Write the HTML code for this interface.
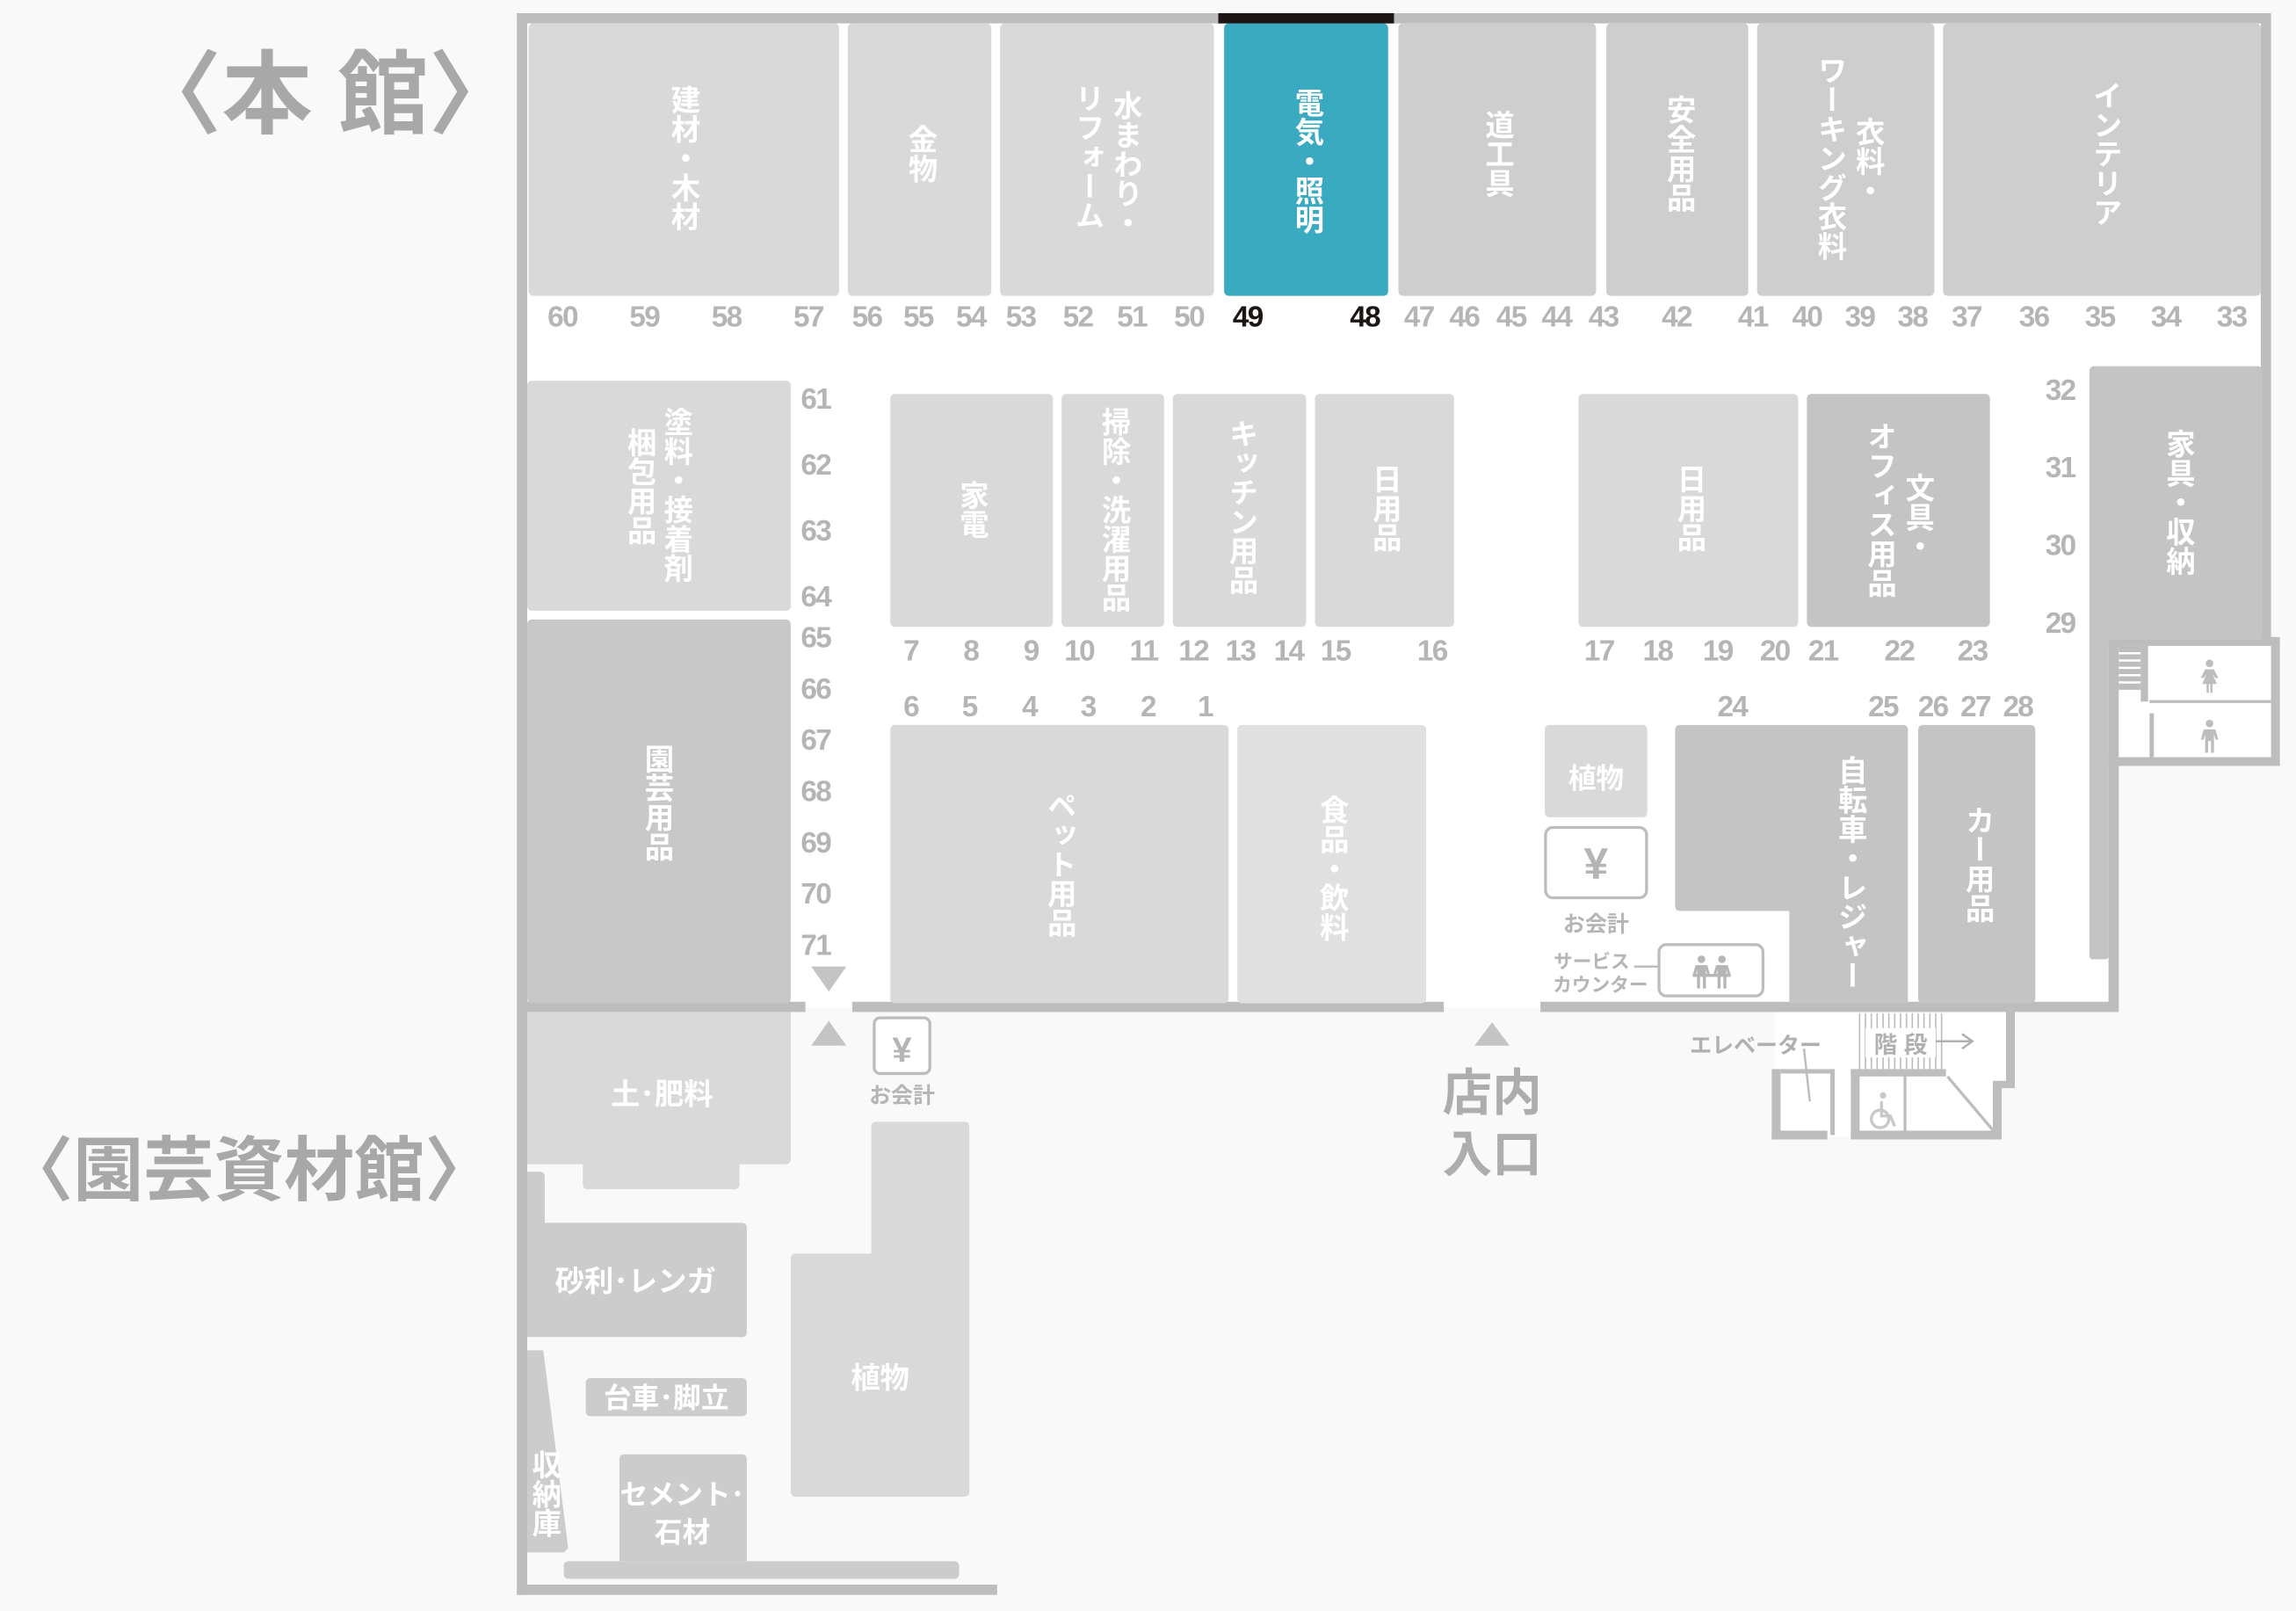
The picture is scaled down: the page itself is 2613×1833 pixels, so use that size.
<!DOCTYPE html>
<html><head><meta charset="utf-8"><style>
html,body{margin:0;padding:0;background:#f9f9f9;}
svg{display:block}
.v{writing-mode:vertical-rl;text-anchor:start;font-family:"Liberation Sans","Noto Sans CJK JP",sans-serif;font-weight:bold;fill:#fff;font-size:20px}
.n{font-family:"Liberation Sans",sans-serif;font-weight:bold;fill:#b5b5b5;font-size:20px;text-anchor:middle;letter-spacing:-1px}
.h{font-family:"Liberation Sans","Noto Sans CJK JP",sans-serif;font-weight:bold;text-anchor:middle}
</style></head><body>
<svg width="2613" height="1833" viewBox="0 0 1568 1100" xmlns="http://www.w3.org/2000/svg">
<defs>
<g id="man"><circle cx="0" cy="-9" r="2.6"/><path d="M-4,-5 H4 L6,2 H4 L3,-2 V11 H1 V3 H-1 V11 H-3 V-2 L-4,2 H-6Z"/></g>
<g id="woman"><circle cx="0" cy="-9" r="2.6"/><path d="M-3,-5 H3 L6,1 H4 L2,-2 L5,5 H2 V11 H0.5 V5 H-0.5 V11 H-2 V5 H-5 L-2,-2 L-4,1 H-6Z"/></g>
</defs>
<rect width="1568" height="1100" fill="#f9f9f9"/>
<!-- main interior -->
<polygon points="358,14 1548,14 1548,437 1446,437 1446,688 358,688" fill="#fff"/>
<rect x="1440" y="437" width="115" height="85" fill="#fff"/>
<polygon points="1212,690 1375,690 1375,738 1365,738 1365,776 1212,776" fill="#fff"/>

<!-- titles -->
<text x="222" y="86" class="h" font-size="62" fill="#a8a8a8">〈本 館〉</text>
<text x="170" y="816" class="h" font-size="48" fill="#a8a8a8">〈園芸資材館〉</text>

<!-- walls -->
<g fill="#bdbdbd">
<rect x="353" y="9" width="1197" height="7"/>
<rect x="353" y="9" width="7" height="1080"/>
<rect x="1544" y="9" width="7" height="430"/>
<rect x="1440" y="435" width="117" height="6"/>
<rect x="1551" y="435" width="6" height="88"/>
<rect x="1440" y="517" width="117" height="6"/>
<rect x="1440" y="435" width="7" height="256"/>
<rect x="353" y="684" width="197" height="7"/>
<rect x="582" y="684" width="404" height="7"/>
<rect x="1052" y="684" width="394" height="7"/>
<rect x="353" y="1082" width="328" height="7"/>
<rect x="1370" y="690" width="6" height="50"/>
<rect x="1365" y="738" width="11" height="5"/>
<rect x="1361" y="738" width="6" height="40"/>
<rect x="1264" y="772" width="103" height="6"/>
<rect x="1210" y="772" width="38" height="6"/>
<rect x="1210" y="730" width="6" height="48"/>
<rect x="1216" y="730" width="37" height="3"/>
<rect x="1250" y="730" width="3" height="45"/>
<rect x="1264" y="730" width="6" height="46"/>
<rect x="1264" y="730" width="65" height="5"/>
<rect x="1300" y="733" width="2" height="40"/>
</g>
<line x1="1330" y1="735" x2="1363" y2="774" stroke="#bdbdbd" stroke-width="2"/>
<line x1="1232" y1="716" x2="1236" y2="752" stroke="#bdbdbd" stroke-width="1.5"/>
<g stroke="#bdbdbd" stroke-width="1">
<line x1="1270" y1="692" x2="1270" y2="730"/><line x1="1274" y1="692" x2="1274" y2="730"/><line x1="1278" y1="692" x2="1278" y2="730"/><line x1="1282" y1="692" x2="1282" y2="730"/><line x1="1286" y1="692" x2="1286" y2="730"/><line x1="1290" y1="692" x2="1290" y2="730"/><line x1="1294" y1="692" x2="1294" y2="730"/><line x1="1298" y1="692" x2="1298" y2="730"/><line x1="1302" y1="692" x2="1302" y2="730"/><line x1="1306" y1="692" x2="1306" y2="730"/><line x1="1310" y1="692" x2="1310" y2="730"/><line x1="1314" y1="692" x2="1314" y2="730"/><line x1="1318" y1="692" x2="1318" y2="730"/><line x1="1322" y1="692" x2="1322" y2="730"/><line x1="1326" y1="692" x2="1326" y2="730"/>
</g>
<rect x="1274" y="702" width="48" height="20" fill="#fff"/>
<text x="1298" y="719" class="h" font-size="16" fill="#b0b0b0">階 段</text>
<line x1="1322" y1="711" x2="1346" y2="711" stroke="#b0b0b0" stroke-width="1.5"/>
<polyline points="1340,706 1347,711 1340,716" fill="none" stroke="#b0b0b0" stroke-width="1.5"/>
<text x="1199" y="719" class="h" font-size="15" fill="#b0b0b0">エレベーター</text>
<!-- wheelchair -->
<g fill="none" stroke="#c8c8c8" stroke-width="2">
<circle cx="1284" cy="764" r="6"/>
<path d="M1285,752 V762 H1291 L1294,769"/>
</g>
<circle cx="1286" cy="748" r="2.2" fill="#c8c8c8"/>

<!-- top row -->
<rect x="361" y="16" width="212" height="186" rx="3" fill="#d9d9d9"/>
<rect x="579" y="16" width="98" height="186" rx="3" fill="#d9d9d9"/>
<rect x="683" y="16" width="146" height="186" rx="3" fill="#d9d9d9"/>
<rect x="836" y="16" width="112" height="186" rx="3" fill="#3aaac1"/>
<rect x="832" y="9" width="120" height="7" fill="#1c1714"/>
<rect x="955" y="16" width="135" height="186" rx="3" fill="#cecece"/>
<rect x="1097" y="16" width="97" height="186" rx="3" fill="#cecece"/>
<rect x="1200" y="16" width="121" height="186" rx="3" fill="#cecece"/>
<rect x="1327" y="16" width="217" height="186" rx="3" fill="#cecece"/>
<text x="466" y="58" class="v">建材・木材</text>
<text x="628" y="85" class="v">金物</text>
<text x="768" y="62" class="v">水まわり・</text>
<text x="742" y="57" class="v">リフォーム</text>
<text x="892" y="60" class="v">電気・照明</text>
<text x="1022" y="75" class="v">道工具</text>
<text x="1146" y="65" class="v">安全用品</text>
<text x="1275" y="80" class="v">衣料・</text>
<text x="1249" y="38" class="v">ワーキング衣料</text>
<text x="1437" y="55" class="v">インテリア</text>

<g class="n">
<text x="384" y="223">60</text><text x="440" y="223">59</text><text x="496" y="223">58</text><text x="552" y="223">57</text><text x="592" y="223">56</text><text x="627" y="223">55</text><text x="663" y="223">54</text><text x="697" y="223">53</text><text x="736" y="223">52</text><text x="773" y="223">51</text><text x="812" y="223">50</text>
<text x="852" y="223" fill="#1c1714">49</text><text x="932" y="223" fill="#1c1714">48</text>
<text x="969" y="223">47</text><text x="1000" y="223">46</text><text x="1032" y="223">45</text><text x="1063" y="223">44</text><text x="1095" y="223">43</text><text x="1145" y="223">42</text><text x="1197" y="223">41</text><text x="1234" y="223">40</text><text x="1270" y="223">39</text><text x="1306" y="223">38</text><text x="1343" y="223">37</text><text x="1389" y="223">36</text><text x="1434" y="223">35</text><text x="1479" y="223">34</text><text x="1524" y="223">33</text>
<text x="557" y="279">61</text><text x="557" y="324">62</text><text x="557" y="369">63</text><text x="557" y="414">64</text><text x="557" y="442">65</text><text x="557" y="477">66</text><text x="557" y="512">67</text><text x="557" y="547">68</text><text x="557" y="582">69</text><text x="557" y="617">70</text><text x="557" y="652">71</text>
<text x="622" y="451">7</text><text x="663" y="451">8</text><text x="704" y="451">9</text><text x="737" y="451">10</text><text x="781" y="451">11</text><text x="815" y="451">12</text><text x="847" y="451">13</text><text x="880" y="451">14</text><text x="912" y="451">15</text><text x="978" y="451">16</text>
<text x="622" y="489">6</text><text x="662" y="489">5</text><text x="703" y="489">4</text><text x="743" y="489">3</text><text x="784" y="489">2</text><text x="823" y="489">1</text>
<text x="1092" y="451">17</text><text x="1132" y="451">18</text><text x="1173" y="451">19</text><text x="1212" y="451">20</text><text x="1245" y="451">21</text><text x="1297" y="451">22</text><text x="1347" y="451">23</text>
<text x="1183" y="489">24</text><text x="1286" y="489">25</text><text x="1320" y="489">26</text><text x="1349" y="489">27</text><text x="1378" y="489">28</text>
<text x="1407" y="273">32</text><text x="1407" y="326">31</text><text x="1407" y="379">30</text><text x="1407" y="432">29</text>
</g>

<!-- left column -->
<rect x="360" y="260" width="180" height="157" rx="3" fill="#d9d9d9"/>
<rect x="360" y="423" width="180" height="262" rx="3" fill="#c8c8c8"/>
<text x="461" y="278" class="v">塗料・接着剤</text>
<text x="436" y="292" class="v">梱包用品</text>
<text x="448" y="508" class="v">園芸用品</text>
<polygon points="554,660 578,660 566,677" fill="#c4c4c4"/>
<polygon points="554,714 578,714 566,697" fill="#c4c4c4"/>

<!-- middle -->
<rect x="608" y="269" width="111" height="159" rx="3" fill="#d9d9d9"/>
<rect x="725" y="269" width="70" height="159" rx="3" fill="#d9d9d9"/>
<rect x="801" y="269" width="91" height="159" rx="3" fill="#d9d9d9"/>
<rect x="898" y="269" width="95" height="159" rx="3" fill="#d9d9d9"/>
<text x="663" y="328" class="v">家電</text>
<text x="760" y="278" class="v">掃除・洗濯用品</text>
<text x="847" y="286" class="v">キッチン用品</text>
<text x="945" y="317" class="v">日用品</text>
<rect x="608" y="495" width="231" height="190" rx="3" fill="#d9d9d9"/>
<rect x="845" y="495" width="129" height="190" rx="3" fill="#e0e0e0"/>
<text x="723" y="540" class="v">ペット用品</text>
<text x="909" y="543" class="v">食品・飲料</text>

<!-- right -->
<rect x="1078" y="269" width="150" height="159" rx="3" fill="#d9d9d9"/>
<rect x="1234" y="269" width="125" height="159" rx="3" fill="#c4c4c4"/>
<text x="1153" y="317" class="v">日用品</text>
<text x="1309" y="323" class="v">文具・</text>
<text x="1283" y="288" class="v">オフィス用品</text>
<rect x="1427" y="250" width="118" height="187" rx="3" fill="#c4c4c4"/>
<rect x="1427" y="430" width="13" height="225" rx="2" fill="#c4c4c4"/>
<text x="1487" y="293" class="v">家具・収納</text>
<rect x="1447" y="441" width="15" height="30" fill="#bdbdbd"/>
<g stroke="#fff" stroke-width="1.5"><line x1="1447" y1="446" x2="1462" y2="446"/><line x1="1447" y1="451" x2="1462" y2="451"/><line x1="1447" y1="456" x2="1462" y2="456"/><line x1="1447" y1="461" x2="1462" y2="461"/><line x1="1447" y1="466" x2="1462" y2="466"/></g>
<rect x="1462" y="441" width="5" height="38" fill="#bdbdbd"/>
<rect x="1468" y="478" width="83" height="2" fill="#bdbdbd"/>
<rect x="1468" y="487" width="3" height="31" fill="#bdbdbd"/>
<use href="#woman" x="1509" y="462" fill="#bdbdbd"/>
<use href="#man" x="1509" y="503" fill="#bdbdbd"/>

<rect x="1055" y="495" width="70" height="63" rx="3" fill="#d9d9d9"/>
<text x="1090" y="538" class="h" font-size="19" fill="#fff">植物</text>
<rect x="1055.5" y="565" width="69" height="48" rx="5" fill="#fff" stroke="#bdbdbd" stroke-width="2"/>
<text x="1090" y="600" class="h" font-size="30" fill="#b5b5b5">¥</text>
<text x="1090" y="636" class="h" font-size="15" fill="#b5b5b5">お会計</text>
<path d="M1147,495 H1300 a3,3 0 0 1 3,3 V685 H1222 V622 H1147 a3,3 0 0 1 -3,-3 V498 a3,3 0 0 1 3,-3Z" fill="#c4c4c4"/>
<text x="1263" y="516" class="v">自転車・レジャー</text>
<rect x="1310" y="495" width="80" height="190" rx="3" fill="#c4c4c4"/>
<text x="1350" y="550" class="v">カー用品</text>
<rect x="1133" y="645" width="71" height="35" rx="5" fill="#fff" stroke="#bdbdbd" stroke-width="2"/>
<line x1="1116" y1="660" x2="1133" y2="660" stroke="#bdbdbd" stroke-width="1.5"/>
<use href="#man" x="1162" y="664" fill="#b5b5b5"/>
<use href="#man" x="1176" y="664" fill="#b5b5b5"/>
<rect x="1156" y="665" width="26" height="2" fill="#b5b5b5"/>
<text x="1087" y="661" class="h" font-size="13" fill="#b5b5b5">サービス</text>
<text x="1093" y="677" class="h" font-size="13" fill="#b5b5b5">カウンター</text>

<!-- entrance -->
<polygon points="1007,714 1031,714 1019,698" fill="#c4c4c4"/>
<text x="1019" y="758" class="h" font-size="34" fill="#adadad">店内</text>
<text x="1019" y="800" class="h" font-size="34" fill="#adadad">入口</text>

<!-- garden -->
<path d="M360,691 H540 V792 a3,3 0 0 1 -3,3 H505 V809 a3,3 0 0 1 -3,3 H401 a3,3 0 0 1 -3,-3 V795 H360Z" fill="#d9d9d9"/>
<text x="452" y="754" class="h" font-size="20" fill="#fff">土･肥料</text>
<rect x="597" y="695" width="38" height="38" rx="4" fill="#fff" stroke="#bdbdbd" stroke-width="2"/>
<text x="616" y="725" class="h" font-size="24" fill="#b5b5b5">¥</text>
<text x="616" y="753" class="h" font-size="15" fill="#b5b5b5">お会計</text>
<path d="M360,800 H369 a3,3 0 0 1 3,3 V835 H507 a3,3 0 0 1 3,3 V910 a3,3 0 0 1 -3,3 H360Z" fill="#cccccc"/>
<text x="434" y="882" class="h" font-size="20" fill="#fff">砂利･レンガ</text>
<rect x="400" y="941" width="110" height="26" rx="3" fill="#cccccc"/>
<text x="455" y="961" class="h" font-size="19" fill="#fff">台車･脚立</text>
<path d="M360,922 H371 L388,1057 L385,1060 H360Z" fill="#cccccc"/>
<text x="371" y="990" class="v" font-size="18">収納庫</text>
<path d="M426,993 H507 a3,3 0 0 1 3,3 V1066 H423 V996 a3,3 0 0 1 3,-3Z" fill="#cccccc"/>
<rect x="385" y="1066" width="270" height="12" rx="3" fill="#cccccc"/>
<text x="466" y="1027" class="h" font-size="19" fill="#fff">セメント･</text>
<text x="466" y="1053" class="h" font-size="19" fill="#fff">石材</text>
<path d="M598,766 H659 a3,3 0 0 1 3,3 V1019 a3,3 0 0 1 -3,3 H543 a3,3 0 0 1 -3,-3 V859 a3,3 0 0 1 3,-3 H595 V769 a3,3 0 0 1 3,-3Z" fill="#d9d9d9"/>
<text x="601" y="948" class="h" font-size="20" fill="#fff">植物</text>
</svg>
</body></html>
